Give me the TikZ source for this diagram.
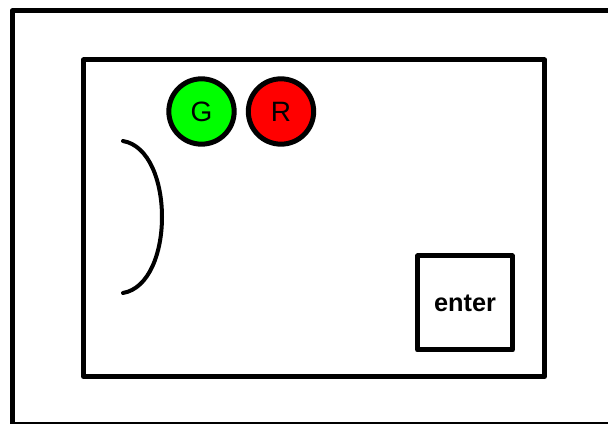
\documentclass[tikz,border=0pt]{standalone}
\usepackage{fontspec}
\setmainfont{Liberation Sans}
\definecolor{lampgreen}{RGB}{0,255,0}
\definecolor{lampred}{RGB}{255,0,0}
\tikzset{
  lamp/.style={circle, draw, inner sep=0pt, minimum size=49pt,
    font=\fontsize{21}{25}\selectfont},
  keybox/.style={rectangle, draw, inner sep=0pt, minimum width=71pt,
    minimum height=70.5pt, font=\bfseries\fontsize{19}{23}\selectfont}
}
\begin{document}
\begin{tikzpicture}[x=0.75pt, y=-0.75pt, line width=3.75pt, line join=round]
\useasboundingbox (0,0) rectangle (608,424);
\begin{scope}
   \clip (0,0) rectangle (608,424);
   \draw (12,11) rectangle (620,425);
\end{scope}
\draw (83.5,60) rectangle (544.5,376.5);

\node[lamp, fill=lampgreen] (green) at (201.5,111.5) {G};
\node[lamp, fill=lampred] (red) at (281,111.5) {R};

\draw[line width=3pt, line cap=round] (123,141) .. controls (175,150) and (175,284) .. (123,293);

\node[keybox] (enter) at (465,303) {enter};
\end{tikzpicture}
\end{document}
